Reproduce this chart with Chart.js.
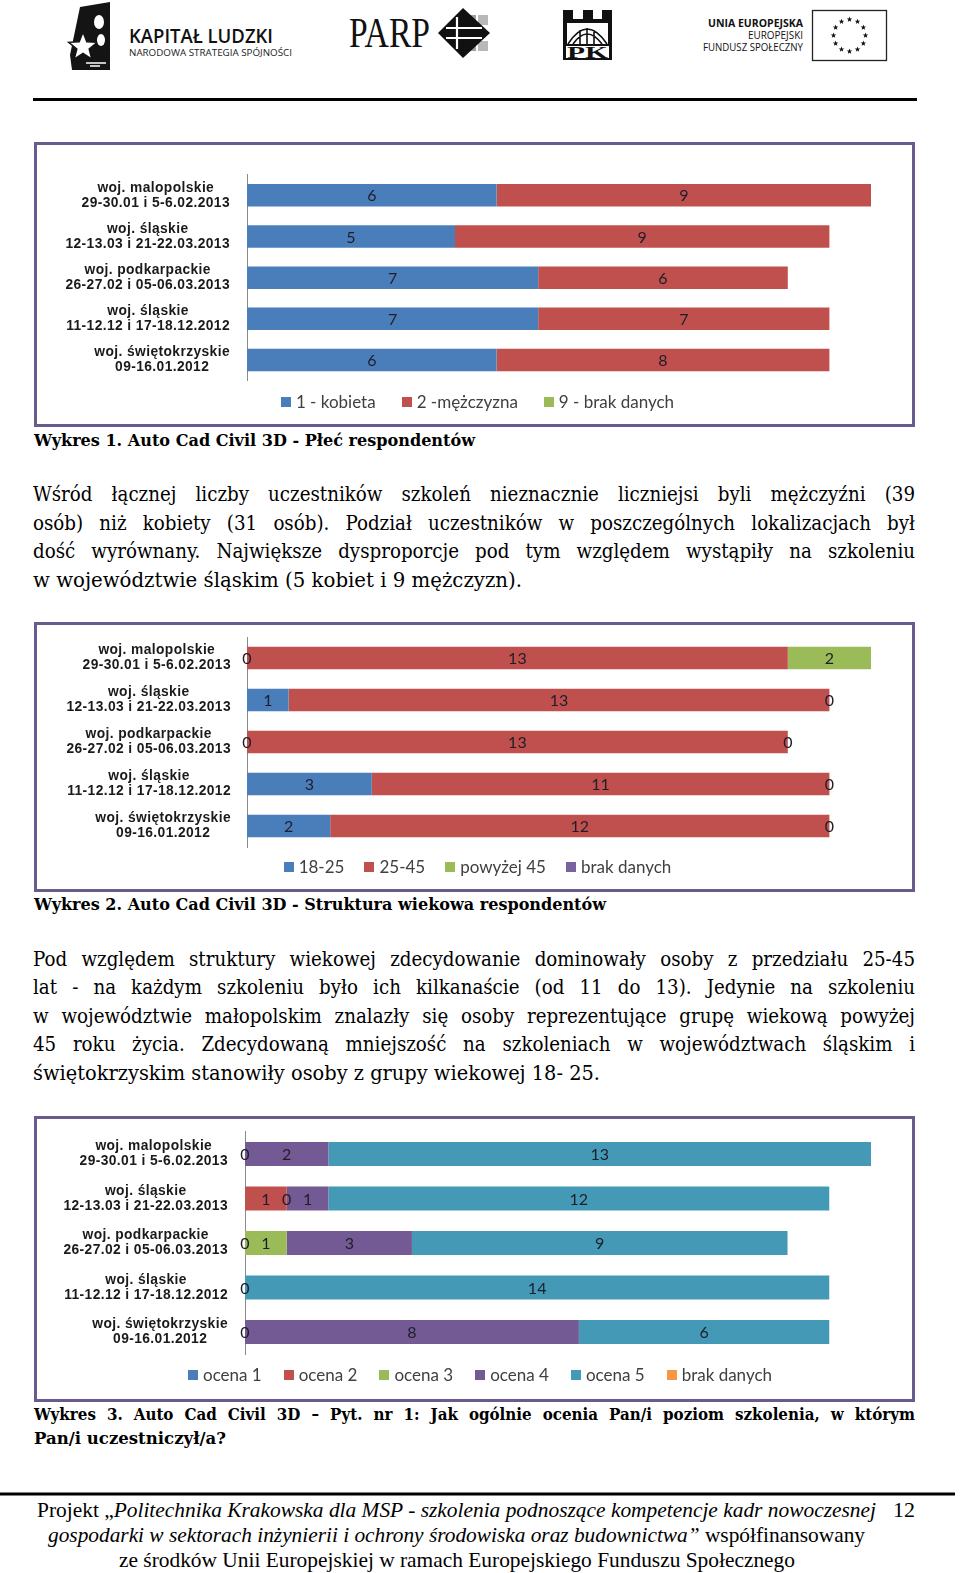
<!DOCTYPE html>
<html lang="pl"><head><meta charset="utf-8">
<script src="https://cdn.jsdelivr.net/npm/chart.js@4.4.1/dist/chart.umd.min.js"></script>
<style>
html,body{margin:0;padding:0;background:#fff;}
body{width:960px;height:1573px;position:relative;overflow:hidden;}
#page{position:absolute;left:0;top:0;}
.frame{position:absolute;left:34px;width:881px;border:3px solid #6a5b8e;box-sizing:border-box;background:#fff;}
.frame canvas{position:absolute;left:0;top:0;}
.body{font-family:"DejaVu Serif Condensed","DejaVu Serif",serif;font-stretch:condensed;font-size:20.3px;fill:#000;}
.cap{font-family:"DejaVu Serif Condensed","DejaVu Serif",serif;font-stretch:condensed;font-weight:bold;font-size:16.8px;fill:#000;}
.foot{font-family:"Liberation Serif","Times New Roman",serif;font-size:21px;fill:#000;}
</style></head><body>
<svg id="page" width="960" height="1573" xmlns="http://www.w3.org/2000/svg">
  <!-- header logos -->
  <path d="M80 7 L110 2 L110 70 L72 70 L70 55 Z" fill="#141414"/>
  <polygon id="klStar" fill="#fff" stroke="#141414" stroke-width="1.5"/>
  <ellipse cx="99" cy="22" rx="5" ry="7" fill="#fff"/>
  <ellipse cx="101" cy="40" rx="4" ry="6" fill="#fff"/>
  <path d="M86 63 L106 63 M90 66 L100 66" stroke="#fff" stroke-width="1.5"/>
  <text x="129" y="43" font-family="Open Sans, Liberation Sans, sans-serif" font-weight="600" font-size="20" textLength="144" lengthAdjust="spacingAndGlyphs" fill="#111">KAPITAŁ LUDZKI</text>
  <text x="129" y="55.5" font-family="Open Sans, Liberation Sans, sans-serif" font-size="9.5" textLength="163" lengthAdjust="spacingAndGlyphs" fill="#222">NARODOWA STRATEGIA SPÓJNOŚCI</text>

  <text x="349" y="47" font-family="Liberation Serif, serif" font-size="42" textLength="81" lengthAdjust="spacingAndGlyphs" fill="#111">PARP</text>
  <rect x="466" y="15" width="10" height="10" fill="#a0a0a0"/>
  <rect x="478" y="15" width="10" height="10" fill="#b8b8b8"/>
  <rect x="466" y="41" width="10" height="10" fill="#a0a0a0"/>
  <rect x="478" y="41" width="10" height="10" fill="#b8b8b8"/>
  <polygon points="463,8 490,33 463,58 438,33" fill="#111"/>
  <path d="M457 17 L457 49 M446 28 L482 28 M446 38 L482 38" stroke="#fff" stroke-width="2.2"/>

  <rect x="563" y="10" width="10" height="10" fill="#111"/>
  <rect x="583" y="10" width="10" height="10" fill="#111"/>
  <rect x="602" y="10" width="10" height="10" fill="#111"/>
  <rect x="563" y="19" width="49" height="41" fill="#111"/>
  <rect x="567" y="23" width="41" height="21" fill="#fff"/>
  <path d="M568 44 Q587 14 607 44 M573 44 Q587 24 602 44 M580 44 L580 30 M587 44 L587 28 M594 44 L594 30" stroke="#111" stroke-width="1.6" fill="none"/>
  <rect x="566" y="46" width="43" height="12" fill="#fff"/>
  <text x="567" y="58" font-family="Liberation Serif, serif" font-weight="bold" font-size="17" textLength="41" lengthAdjust="spacingAndGlyphs" fill="#111">PK</text>

  <text x="803" y="27" text-anchor="end" font-family="Open Sans, Liberation Sans, sans-serif" font-weight="bold" font-size="10" textLength="95" lengthAdjust="spacingAndGlyphs" fill="#111">UNIA EUROPEJSKA</text>
  <text x="803" y="39" text-anchor="end" font-family="Open Sans, Liberation Sans, sans-serif" font-size="10" textLength="55" lengthAdjust="spacingAndGlyphs" fill="#111">EUROPEJSKI</text>
  <text x="803" y="51" text-anchor="end" font-family="Open Sans, Liberation Sans, sans-serif" font-size="10" textLength="100" lengthAdjust="spacingAndGlyphs" fill="#111">FUNDUSZ SPOŁECZNY</text>
  <rect x="812.5" y="10.5" width="74" height="50" fill="#fff" stroke="#222" stroke-width="1.3"/>
  <g id="euStars" fill="#111"></g>

  <rect x="33" y="98" width="884" height="3" fill="#000"/>

  <!-- captions & paragraphs -->
  <text class="cap" x="34" y="445.5" textLength="441" lengthAdjust="spacingAndGlyphs">Wykres 1. Auto Cad Civil 3D - Płeć respondentów</text>

  <text class="body" x="33" y="501" data-w="882">Wśród łącznej liczby uczestników szkoleń nieznacznie liczniejsi byli mężczyźni (39</text>
  <text class="body" x="33" y="529.5" data-w="882">osób) niż kobiety (31 osób). Podział uczestników w poszczególnych lokalizacjach był</text>
  <text class="body" x="33" y="558" data-w="882">dość wyrównany. Największe dysproporcje pod tym względem wystąpiły na szkoleniu</text>
  <text class="body" x="33" y="586.5" textLength="489" lengthAdjust="spacingAndGlyphs">w województwie śląskim (5 kobiet i 9 mężczyzn).</text>

  <text class="cap" x="34" y="909.5" textLength="572" lengthAdjust="spacingAndGlyphs">Wykres 2. Auto Cad Civil 3D - Struktura wiekowa respondentów</text>

  <text class="body" x="33" y="966" data-w="882">Pod względem struktury wiekowej zdecydowanie dominowały osoby z przedziału 25-45</text>
  <text class="body" x="33" y="994.3" data-w="882">lat - na każdym szkoleniu było ich kilkanaście (od 11 do 13). Jedynie na szkoleniu</text>
  <text class="body" x="33" y="1022.8" data-w="882">w województwie małopolskim znalazły się osoby reprezentujące grupę wiekową powyżej</text>
  <text class="body" x="33" y="1051.2" data-w="882">45 roku życia. Zdecydowaną mniejszość na szkoleniach w województwach śląskim i</text>
  <text class="body" x="33" y="1079.5" textLength="567" lengthAdjust="spacingAndGlyphs">świętokrzyskim stanowiły osoby z grupy wiekowej 18- 25.</text>

  <text class="cap" x="34" y="1419.5" data-w="881">Wykres 3. Auto Cad Civil 3D – Pyt. nr 1: Jak ogólnie ocenia Pan/i poziom szkolenia, w którym</text>
  <text class="cap" x="34" y="1443.5" textLength="192" lengthAdjust="spacingAndGlyphs">Pan/i uczestniczył/a?</text>

  <!-- footer -->
  <rect x="0" y="1492.5" width="955" height="3" fill="#000"/>
  <text class="foot" x="37" y="1517" textLength="839" lengthAdjust="spacingAndGlyphs">Projekt „<tspan font-style="italic">Politechnika Krakowska dla MSP - szkolenia podnoszące kompetencje kadr nowoczesnej</tspan></text>
  <text class="foot" x="893" y="1517" textLength="22" lengthAdjust="spacingAndGlyphs">12</text>
  <text class="foot" x="48" y="1541.5" textLength="817" lengthAdjust="spacingAndGlyphs"><tspan font-style="italic">gospodarki w sektorach inżynierii i ochrony środowiska oraz budownictwa”</tspan> współfinansowany</text>
  <text class="foot" x="119" y="1566.5" textLength="676" lengthAdjust="spacingAndGlyphs">ze środków Unii Europejskiej w ramach Europejskiego Funduszu Społecznego</text>
</svg>

<div class="frame" style="top:142px;height:285px"><canvas id="c1" width="875" height="279"></canvas></div>
<div class="frame" style="top:622px;height:270px"><canvas id="c2" width="875" height="264"></canvas></div>
<div class="frame" style="top:1116px;height:286px"><canvas id="c3" width="875" height="280"></canvas></div>

<script>
// ---------- DATA ----------
const categories = [
  ['woj. malopolskie', '29-30.01 i 5-6.02.2013'],
  ['woj. śląskie', '12-13.03 i 21-22.03.2013'],
  ['woj. podkarpackie', '26-27.02 i 05-06.03.2013'],
  ['woj. śląskie', '11-12.12 i 17-18.12.2012'],
  ['woj. świętokrzyskie', '09-16.01.2012']
];
// Wykres 1 - płeć
const plecLabels = ['1 - kobieta', '2 -mężczyzna', '9 - brak danych'];
const plecKobieta   = [6, 5, 7, 7, 6];
const plecMezczyzna = [9, 9, 6, 7, 8];
const plecBrak      = [null, null, null, null, null];
// Wykres 2 - wiek
const wiekLabels = ['18-25', '25-45', 'powyżej 45', 'brak danych'];
const wiek18_25  = [0, 1, 0, 3, 2];
const wiek25_45  = [13, 13, 13, 11, 12];
const wiekPow45  = [2, 0, 0, 0, 0];
const wiekBrak   = [null, null, null, null, null];
// Wykres 3 - ocena
const ocenaLabels = ['ocena 1', 'ocena 2', 'ocena 3', 'ocena 4', 'ocena 5', 'brak danych'];
const ocena1    = [null, null, null, null, null];
const ocena2    = [0, 1, 0, 0, 0];
const ocena3    = [null, 0, 1, null, null];
const ocena4    = [2, 1, 3, null, 8];
const ocena5    = [13, 12, 9, 14, 6];
const ocenaBrak = [null, null, null, null, null];
const axisMax = 15;

// ---------- decorations ----------
function starPts(cx, cy, R, r) {
  const p = [];
  for (let k = 0; k < 10; k++) {
    const a = (-90 + 36 * k) * Math.PI / 180, rr = k % 2 ? r : R;
    p.push((cx + rr * Math.cos(a)).toFixed(2) + ',' + (cy + rr * Math.sin(a)).toFixed(2));
  }
  return p.join(' ');
}
document.getElementById('klStar').setAttribute('points', starPts(83, 47, 15, 6.5));
(function () {
  const g = document.getElementById('euStars');
  let s = '';
  for (let k = 0; k < 12; k++) {
    const a = k * 30 * Math.PI / 180;
    s += '<polygon points="' + starPts(849.5 + 16 * Math.cos(a), 35.5 + 16 * Math.sin(a), 2.9, 1.2) + '"/>';
  }
  g.innerHTML = s;
})();
document.querySelectorAll('text[data-w]').forEach(t => {
  const target = +t.dataset.w;
  const nat = t.getComputedTextLength();
  const spaces = (t.textContent.match(/ /g) || []).length;
  if (nat < target && spaces) t.style.wordSpacing = ((target - nat) / spaces).toFixed(3) + 'px';
  else { t.setAttribute('textLength', target); t.setAttribute('lengthAdjust', 'spacingAndGlyphs'); }
});

// ---------- plugins ----------
const catLabelsPlugin = {
  id: 'catLabels',
  afterDraw(chart, args, o) {
    const ys = chart.scales.y, ctx = chart.ctx;
    ctx.save();
    ctx.font = o.font; ctx.fillStyle = o.color;
    ctx.textAlign = 'center'; ctx.textBaseline = 'middle';
    if ('letterSpacing' in ctx) ctx.letterSpacing = o.letterSpacing;
    chart.data.labels.forEach((lines, i) => {
      const y = ys.getPixelForValue(i);
      const w = Math.max(...lines.map(l => ctx.measureText(l).width));
      const cx = ys.right - o.padding - w / 2;
      lines.forEach((l, j) => ctx.fillText(l, cx, y + (j - (lines.length - 1) / 2) * o.lineHeight + o.dy));
    });
    ctx.restore();
  }
};
const valueLabelsPlugin = {
  id: 'valueLabels',
  afterDatasetsDraw(chart, args, o) {
    const ctx = chart.ctx;
    ctx.save();
    ctx.font = o.font; ctx.fillStyle = o.color;
    ctx.textAlign = 'center'; ctx.textBaseline = 'middle';
    chart.data.datasets.forEach((ds, di) => {
      const meta = chart.getDatasetMeta(di);
      meta.data.forEach((bar, i) => {
        const v = ds.data[i];
        if (v === null || v === undefined) return;
        const p = bar.getProps(['x', 'base', 'y'], true);
        ctx.fillText(String(v), (p.x + p.base) / 2, p.y + 1);
      });
    });
    ctx.restore();
  }
};
const boxLegendPlugin = {
  id: 'boxLegend',
  afterDraw(chart, args, o) {
    const ctx = chart.ctx;
    ctx.save();
    ctx.font = o.font; ctx.textAlign = 'left'; ctx.textBaseline = 'middle';
    const items = chart.data.datasets.map(d => ({ text: d.label, color: d.backgroundColor }));
    const widths = items.map(it => o.box + o.gap + ctx.measureText(it.text).width);
    const total = widths.reduce((a, b) => a + b, 0) + o.spacing * (items.length - 1);
    let x = o.centerX - total / 2;
    const y = chart.chartArea.bottom + o.offsetY;
    items.forEach((it, k) => {
      ctx.fillStyle = it.color;
      ctx.fillRect(Math.round(x), Math.round(y - o.box / 2), o.box, o.box);
      ctx.fillStyle = o.color;
      ctx.fillText(it.text, x + o.box + o.gap, y + 0.5);
      x += widths[k] + o.spacing;
    });
    ctx.restore();
  }
};

function buildChart(id, labels, series, colors, o) {
  return new Chart(document.getElementById(id), {
    type: 'bar',
    data: {
      labels: categories,
      datasets: series.map((d, k) => ({
        label: labels[k], data: d, backgroundColor: colors[k],
        barPercentage: o.barPct, categoryPercentage: 1, borderWidth: 0
      }))
    },
    options: {
      indexAxis: 'y', responsive: false, animation: false, devicePixelRatio: 1,
      layout: { padding: o.padding },
      scales: {
        x: { stacked: true, display: false, min: 0, max: axisMax },
        y: {
          stacked: true,
          grid: { display: false },
          border: { display: true, color: '#8a8a8a', width: 1 },
          ticks: { display: false },
          afterFit: s => { s.width = o.axisW; }
        }
      },
      plugins: {
        legend: { display: false },
        tooltip: { enabled: false },
        catLabels: { font: 'bold 13.8px "Liberation Sans", Arial, sans-serif', color: '#1a1a1a', padding: o.labelPad, lineHeight: 15, dy: 0, letterSpacing: '0.4px' },
        valueLabels: { font: '16px Lato, "Open Sans", sans-serif', color: '#1e1e2a' },
        boxLegend: { font: '17px Lato, "Open Sans", sans-serif', color: '#404040', box: 10, gap: 5, spacing: o.legendSp, centerX: o.legendX, offsetY: o.legendDy }
      }
    },
    plugins: [catLabelsPlugin, valueLabelsPlugin, boxLegendPlugin]
  });
}

const C = { blue: '#4a7ebb', red: '#c0504d', green: '#9bbb59', purple: '#7a62a0', teal: '#4499b6', orange: '#f79646' };

buildChart('c1', plecLabels, [plecKobieta, plecMezczyzna, plecBrak], [C.blue, C.red, C.green], {
  barPct: 0.546, axisW: 210, labelPad: 17,
  padding: { top: 29.7, right: 41, bottom: 43.4, left: 0 },
  legendX: 440.5, legendDy: 21.4, legendSp: 26
});
buildChart('c2', wiekLabels, [wiek18_25, wiek25_45, wiekPow45, wiekBrak], [C.blue, C.red, C.green, C.purple], {
  barPct: 0.54, axisW: 210, labelPad: 16,
  padding: { top: 12, right: 41, bottom: 42, left: 0 },
  legendX: 440.5, legendDy: 19.7, legendSp: 20
});
buildChart('c3', ocenaLabels, [ocena1, ocena2, ocena3, ocena4, ocena5, ocenaBrak], [C.blue, C.red, C.green, '#735a94', C.teal, C.orange], {
  barPct: 0.54, axisW: 208, labelPad: 17,
  padding: { top: 12.75, right: 41, bottom: 44.75, left: 0 },
  legendX: 443, legendDy: 20.75, legendSp: 22
});
</script>
</body></html>
